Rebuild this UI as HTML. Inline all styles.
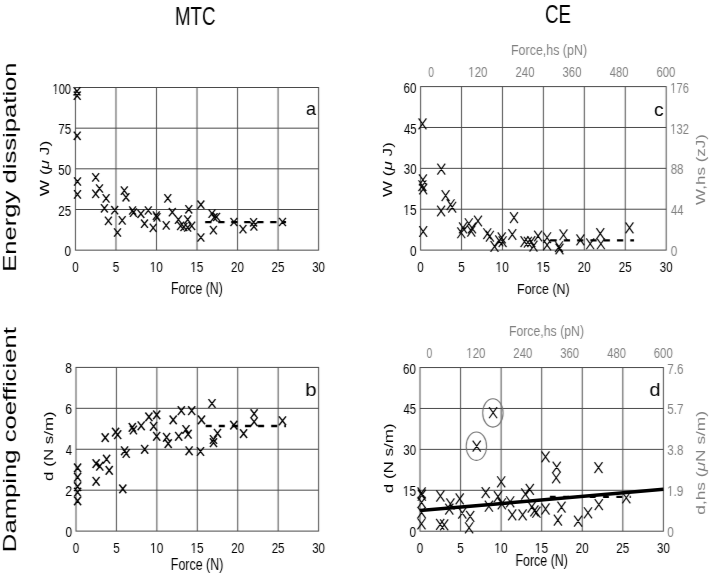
<!DOCTYPE html>
<html><head><meta charset="utf-8"><style>
html,body{margin:0;padding:0;background:#fff;}
svg{display:block;filter:grayscale(1);}
text{font-family:"Liberation Sans",sans-serif;}
</style></head><body>
<svg width="709" height="574" viewBox="0 0 709 574">
<defs><filter id="hb" color-interpolation-filters="sRGB" filterUnits="userSpaceOnUse" x="0" y="0" width="709" height="574"><feConvolveMatrix order="3 1" kernelMatrix="0.1 0.8 0.1" divisor="1" edgeMode="duplicate" preserveAlpha="true"/></filter><clipPath id="k1"><rect x="144.66" y="254.51" width="23.24" height="16.00"/><rect x="144.66" y="270.51" width="5.11" height="9.38"/><rect x="152.65" y="270.51" width="1.05" height="9.38"/><rect x="156.49" y="270.51" width="11.40" height="9.38"/></clipPath><clipPath id="k2"><rect x="185.18" y="254.25" width="23.30" height="16.24"/><rect x="185.18" y="270.49" width="5.11" height="9.50"/><rect x="193.19" y="270.49" width="1.06" height="9.50"/><rect x="197.05" y="270.49" width="11.44" height="9.50"/></clipPath><clipPath id="k3"><rect x="490.62" y="254.46" width="23.24" height="16.00"/><rect x="490.62" y="270.46" width="5.11" height="9.38"/><rect x="498.62" y="270.46" width="1.05" height="9.38"/><rect x="502.46" y="270.46" width="11.40" height="9.38"/></clipPath><clipPath id="k4"><rect x="531.55" y="254.20" width="23.30" height="16.24"/><rect x="531.55" y="270.44" width="5.11" height="9.50"/><rect x="539.56" y="270.44" width="1.06" height="9.50"/><rect x="543.42" y="270.44" width="11.44" height="9.50"/></clipPath><clipPath id="k5"><rect x="145.02" y="535.46" width="23.24" height="16.00"/><rect x="145.02" y="551.46" width="5.11" height="9.38"/><rect x="153.02" y="551.46" width="1.05" height="9.38"/><rect x="156.86" y="551.46" width="11.40" height="9.38"/></clipPath><clipPath id="k6"><rect x="185.45" y="535.20" width="23.30" height="16.24"/><rect x="185.45" y="551.44" width="5.11" height="9.50"/><rect x="193.46" y="551.44" width="1.06" height="9.50"/><rect x="197.32" y="551.44" width="11.44" height="9.50"/></clipPath><clipPath id="k7"><rect x="489.29" y="535.56" width="23.24" height="16.00"/><rect x="489.29" y="551.56" width="5.11" height="9.38"/><rect x="497.28" y="551.56" width="1.05" height="9.38"/><rect x="501.13" y="551.56" width="11.40" height="9.38"/></clipPath><clipPath id="k8"><rect x="529.85" y="535.30" width="23.30" height="16.24"/><rect x="529.85" y="551.54" width="5.11" height="9.50"/><rect x="537.86" y="551.54" width="1.06" height="9.50"/><rect x="541.72" y="551.54" width="11.44" height="9.50"/></clipPath><clipPath id="k9"><rect x="47.41" y="75.61" width="28.67" height="16.00"/><rect x="47.41" y="91.61" width="5.05" height="9.38"/><rect x="55.22" y="91.61" width="0.99" height="9.38"/><rect x="58.89" y="91.61" width="17.19" height="9.38"/></clipPath><clipPath id="k10"><rect x="398.30" y="197.08" width="23.30" height="16.24"/><rect x="398.30" y="213.32" width="5.11" height="9.50"/><rect x="406.31" y="213.32" width="1.06" height="9.50"/><rect x="410.17" y="213.32" width="11.44" height="9.50"/></clipPath><clipPath id="k11"><rect x="397.80" y="478.14" width="23.30" height="16.24"/><rect x="397.80" y="494.38" width="5.11" height="9.50"/><rect x="405.81" y="494.38" width="1.06" height="9.50"/><rect x="409.67" y="494.38" width="11.44" height="9.50"/></clipPath><clipPath id="k12"><rect x="665.36" y="115.59" width="28.63" height="16.00"/><rect x="665.36" y="131.59" width="5.05" height="9.38"/><rect x="673.17" y="131.59" width="0.99" height="9.38"/><rect x="676.83" y="131.59" width="17.17" height="9.38"/></clipPath><clipPath id="k13"><rect x="665.37" y="74.71" width="28.51" height="16.00"/><rect x="665.37" y="90.71" width="5.05" height="9.38"/><rect x="673.16" y="90.71" width="0.98" height="9.38"/><rect x="676.80" y="90.71" width="17.08" height="9.38"/></clipPath><clipPath id="k14"><rect x="661.90" y="478.40" width="26.64" height="16.00"/><rect x="661.90" y="494.40" width="5.11" height="9.38"/><rect x="669.91" y="494.40" width="1.06" height="9.38"/><rect x="673.77" y="494.40" width="14.77" height="9.38"/></clipPath><clipPath id="k15"><rect x="463.21" y="60.36" width="29.31" height="14.89"/><rect x="463.21" y="75.25" width="5.08" height="8.81"/><rect x="471.12" y="75.25" width="1.02" height="8.81"/><rect x="474.88" y="75.25" width="17.64" height="8.81"/></clipPath><clipPath id="k16"><rect x="461.23" y="341.09" width="29.31" height="15.05"/><rect x="461.23" y="356.14" width="5.08" height="8.89"/><rect x="469.14" y="356.14" width="1.02" height="8.89"/><rect x="472.90" y="356.14" width="17.64" height="8.89"/></clipPath></defs>
<rect width="709" height="574" fill="#fff"/>
<g filter="url(#hb)">
<rect width="709" height="574" fill="#fff"/>
<line x1="115.98" y1="87.50" x2="115.98" y2="250.15" stroke="#4a4a4a" stroke-width="1.0"/>
<line x1="156.50" y1="87.50" x2="156.50" y2="250.15" stroke="#4a4a4a" stroke-width="1.0"/>
<line x1="197.03" y1="87.50" x2="197.03" y2="250.15" stroke="#4a4a4a" stroke-width="1.0"/>
<line x1="237.55" y1="87.50" x2="237.55" y2="250.15" stroke="#4a4a4a" stroke-width="1.0"/>
<line x1="278.08" y1="87.50" x2="278.08" y2="250.15" stroke="#4a4a4a" stroke-width="1.0"/>
<line x1="75.45" y1="209.49" x2="318.60" y2="209.49" stroke="#4a4a4a" stroke-width="1.0"/>
<line x1="75.45" y1="168.82" x2="318.60" y2="168.82" stroke="#4a4a4a" stroke-width="1.0"/>
<line x1="75.45" y1="128.16" x2="318.60" y2="128.16" stroke="#4a4a4a" stroke-width="1.0"/>
<rect x="75.45" y="87.50" width="243.15" height="162.65" fill="none" stroke="#4a4a4a" stroke-width="1.0"/>
<line x1="461.53" y1="86.60" x2="461.53" y2="250.10" stroke="#4a4a4a" stroke-width="1.0"/>
<line x1="502.47" y1="86.60" x2="502.47" y2="250.10" stroke="#4a4a4a" stroke-width="1.0"/>
<line x1="543.40" y1="86.60" x2="543.40" y2="250.10" stroke="#4a4a4a" stroke-width="1.0"/>
<line x1="584.33" y1="86.60" x2="584.33" y2="250.10" stroke="#4a4a4a" stroke-width="1.0"/>
<line x1="625.27" y1="86.60" x2="625.27" y2="250.10" stroke="#4a4a4a" stroke-width="1.0"/>
<line x1="420.60" y1="209.22" x2="666.20" y2="209.22" stroke="#4a4a4a" stroke-width="1.0"/>
<line x1="420.60" y1="168.35" x2="666.20" y2="168.35" stroke="#4a4a4a" stroke-width="1.0"/>
<line x1="420.60" y1="127.47" x2="666.20" y2="127.47" stroke="#4a4a4a" stroke-width="1.0"/>
<rect x="420.60" y="86.60" width="245.60" height="163.50" fill="none" stroke="#4a4a4a" stroke-width="1.0"/>
<line x1="116.43" y1="367.40" x2="116.43" y2="531.10" stroke="#4a4a4a" stroke-width="1.0"/>
<line x1="156.87" y1="367.40" x2="156.87" y2="531.10" stroke="#4a4a4a" stroke-width="1.0"/>
<line x1="197.30" y1="367.40" x2="197.30" y2="531.10" stroke="#4a4a4a" stroke-width="1.0"/>
<line x1="237.73" y1="367.40" x2="237.73" y2="531.10" stroke="#4a4a4a" stroke-width="1.0"/>
<line x1="278.17" y1="367.40" x2="278.17" y2="531.10" stroke="#4a4a4a" stroke-width="1.0"/>
<line x1="76.00" y1="490.18" x2="318.60" y2="490.18" stroke="#4a4a4a" stroke-width="1.0"/>
<line x1="76.00" y1="449.25" x2="318.60" y2="449.25" stroke="#4a4a4a" stroke-width="1.0"/>
<line x1="76.00" y1="408.32" x2="318.60" y2="408.32" stroke="#4a4a4a" stroke-width="1.0"/>
<rect x="76.00" y="367.40" width="242.60" height="163.70" fill="none" stroke="#4a4a4a" stroke-width="1.0"/>
<line x1="460.57" y1="367.55" x2="460.57" y2="531.20" stroke="#4a4a4a" stroke-width="1.0"/>
<line x1="501.13" y1="367.55" x2="501.13" y2="531.20" stroke="#4a4a4a" stroke-width="1.0"/>
<line x1="541.70" y1="367.55" x2="541.70" y2="531.20" stroke="#4a4a4a" stroke-width="1.0"/>
<line x1="582.27" y1="367.55" x2="582.27" y2="531.20" stroke="#4a4a4a" stroke-width="1.0"/>
<line x1="622.83" y1="367.55" x2="622.83" y2="531.20" stroke="#4a4a4a" stroke-width="1.0"/>
<line x1="420.00" y1="490.29" x2="663.40" y2="490.29" stroke="#4a4a4a" stroke-width="1.0"/>
<line x1="420.00" y1="449.38" x2="663.40" y2="449.38" stroke="#4a4a4a" stroke-width="1.0"/>
<line x1="420.00" y1="408.46" x2="663.40" y2="408.46" stroke="#4a4a4a" stroke-width="1.0"/>
<rect x="420.00" y="367.55" width="243.40" height="163.65" fill="none" stroke="#4a4a4a" stroke-width="1.0"/>
<text x="175.00" y="24.60" font-size="26.29" textLength="40.57" lengthAdjust="spacingAndGlyphs" fill="#000">MTC</text>
<text x="544.96" y="22.85" font-size="26.41" textLength="26.07" lengthAdjust="spacingAndGlyphs" fill="#000">CE</text>
<text transform="translate(16.30,271.75) rotate(-90)" x="0" y="0" font-size="18.77" textLength="209.36" lengthAdjust="spacingAndGlyphs" fill="#000">Energy dissipation</text>
<text transform="translate(15.90,552.15) rotate(-90)" x="0" y="0" font-size="19.13" textLength="224.99" lengthAdjust="spacingAndGlyphs" fill="#000">Damping coefficient</text>
<text x="72.18" y="272.43" font-size="14.93" textLength="6.49" lengthAdjust="spacingAndGlyphs" fill="#000">0</text>
<text x="112.70" y="272.42" font-size="15.14" textLength="6.56" lengthAdjust="spacingAndGlyphs" fill="#000">5</text>
<text x="149.66" y="272.43" font-size="14.93" textLength="13.24" lengthAdjust="spacingAndGlyphs" fill="#000" clip-path="url(#k1)">10</text>
<text x="190.18" y="272.42" font-size="15.14" textLength="13.30" lengthAdjust="spacingAndGlyphs" fill="#000" clip-path="url(#k2)">15</text>
<text x="231.02" y="272.43" font-size="14.93" textLength="12.91" lengthAdjust="spacingAndGlyphs" fill="#000">20</text>
<text x="271.54" y="272.43" font-size="14.93" textLength="12.98" lengthAdjust="spacingAndGlyphs" fill="#000">25</text>
<text x="312.19" y="272.43" font-size="14.93" textLength="12.79" lengthAdjust="spacingAndGlyphs" fill="#000">30</text>
<text x="417.33" y="272.38" font-size="14.93" textLength="6.49" lengthAdjust="spacingAndGlyphs" fill="#000">0</text>
<text x="458.26" y="272.37" font-size="15.14" textLength="6.56" lengthAdjust="spacingAndGlyphs" fill="#000">5</text>
<text x="495.62" y="272.38" font-size="14.93" textLength="13.24" lengthAdjust="spacingAndGlyphs" fill="#000" clip-path="url(#k3)">10</text>
<text x="536.55" y="272.37" font-size="15.14" textLength="13.30" lengthAdjust="spacingAndGlyphs" fill="#000" clip-path="url(#k4)">15</text>
<text x="577.80" y="272.38" font-size="14.93" textLength="12.91" lengthAdjust="spacingAndGlyphs" fill="#000">20</text>
<text x="618.73" y="272.38" font-size="14.93" textLength="12.98" lengthAdjust="spacingAndGlyphs" fill="#000">25</text>
<text x="659.79" y="272.38" font-size="14.93" textLength="12.79" lengthAdjust="spacingAndGlyphs" fill="#000">30</text>
<text x="72.73" y="553.38" font-size="14.93" textLength="6.49" lengthAdjust="spacingAndGlyphs" fill="#000">0</text>
<text x="113.16" y="553.37" font-size="15.14" textLength="6.56" lengthAdjust="spacingAndGlyphs" fill="#000">5</text>
<text x="150.02" y="553.38" font-size="14.93" textLength="13.24" lengthAdjust="spacingAndGlyphs" fill="#000" clip-path="url(#k5)">10</text>
<text x="190.45" y="553.37" font-size="15.14" textLength="13.30" lengthAdjust="spacingAndGlyphs" fill="#000" clip-path="url(#k6)">15</text>
<text x="231.20" y="553.38" font-size="14.93" textLength="12.91" lengthAdjust="spacingAndGlyphs" fill="#000">20</text>
<text x="271.63" y="553.38" font-size="14.93" textLength="12.98" lengthAdjust="spacingAndGlyphs" fill="#000">25</text>
<text x="312.19" y="553.38" font-size="14.93" textLength="12.79" lengthAdjust="spacingAndGlyphs" fill="#000">30</text>
<text x="416.73" y="553.48" font-size="14.93" textLength="6.49" lengthAdjust="spacingAndGlyphs" fill="#000">0</text>
<text x="457.30" y="553.47" font-size="15.14" textLength="6.56" lengthAdjust="spacingAndGlyphs" fill="#000">5</text>
<text x="494.29" y="553.48" font-size="14.93" textLength="13.24" lengthAdjust="spacingAndGlyphs" fill="#000" clip-path="url(#k7)">10</text>
<text x="534.85" y="553.47" font-size="15.14" textLength="13.30" lengthAdjust="spacingAndGlyphs" fill="#000" clip-path="url(#k8)">15</text>
<text x="575.74" y="553.48" font-size="14.93" textLength="12.91" lengthAdjust="spacingAndGlyphs" fill="#000">20</text>
<text x="616.30" y="553.48" font-size="14.93" textLength="12.98" lengthAdjust="spacingAndGlyphs" fill="#000">25</text>
<text x="656.99" y="553.48" font-size="14.93" textLength="12.79" lengthAdjust="spacingAndGlyphs" fill="#000">30</text>
<text x="64.48" y="256.18" font-size="14.93" textLength="6.60" lengthAdjust="spacingAndGlyphs" fill="#000">0</text>
<text x="58.17" y="215.51" font-size="14.93" textLength="12.98" lengthAdjust="spacingAndGlyphs" fill="#000">25</text>
<text x="58.29" y="174.85" font-size="14.93" textLength="12.79" lengthAdjust="spacingAndGlyphs" fill="#000">50</text>
<text x="58.17" y="134.19" font-size="15.14" textLength="12.98" lengthAdjust="spacingAndGlyphs" fill="#000">75</text>
<text x="52.41" y="93.53" font-size="14.93" textLength="18.67" lengthAdjust="spacingAndGlyphs" fill="#000" clip-path="url(#k9)">100</text>
<text x="409.93" y="256.13" font-size="14.93" textLength="6.60" lengthAdjust="spacingAndGlyphs" fill="#000">0</text>
<text x="403.30" y="215.25" font-size="15.14" textLength="13.30" lengthAdjust="spacingAndGlyphs" fill="#000" clip-path="url(#k10)">15</text>
<text x="403.74" y="174.38" font-size="14.93" textLength="12.79" lengthAdjust="spacingAndGlyphs" fill="#000">30</text>
<text x="403.97" y="133.50" font-size="15.14" textLength="12.61" lengthAdjust="spacingAndGlyphs" fill="#000">45</text>
<text x="403.62" y="92.63" font-size="14.93" textLength="12.91" lengthAdjust="spacingAndGlyphs" fill="#000">60</text>
<text x="65.42" y="537.13" font-size="14.93" textLength="6.60" lengthAdjust="spacingAndGlyphs" fill="#000">0</text>
<text x="65.27" y="496.35" font-size="15.14" textLength="6.97" lengthAdjust="spacingAndGlyphs" fill="#000">2</text>
<text x="65.67" y="455.42" font-size="15.36" textLength="6.28" lengthAdjust="spacingAndGlyphs" fill="#000">4</text>
<text x="65.29" y="414.35" font-size="14.93" textLength="6.82" lengthAdjust="spacingAndGlyphs" fill="#000">6</text>
<text x="65.35" y="373.43" font-size="14.93" textLength="6.75" lengthAdjust="spacingAndGlyphs" fill="#000">8</text>
<text x="409.43" y="537.23" font-size="14.93" textLength="6.60" lengthAdjust="spacingAndGlyphs" fill="#000">0</text>
<text x="402.80" y="496.31" font-size="15.14" textLength="13.30" lengthAdjust="spacingAndGlyphs" fill="#000" clip-path="url(#k11)">15</text>
<text x="403.24" y="455.40" font-size="14.93" textLength="12.79" lengthAdjust="spacingAndGlyphs" fill="#000">30</text>
<text x="403.47" y="414.49" font-size="15.14" textLength="12.61" lengthAdjust="spacingAndGlyphs" fill="#000">45</text>
<text x="403.12" y="373.58" font-size="14.93" textLength="12.91" lengthAdjust="spacingAndGlyphs" fill="#000">60</text>
<text x="670.73" y="256.13" font-size="14.93" textLength="6.60" lengthAdjust="spacingAndGlyphs" fill="#808080">0</text>
<text x="670.98" y="215.40" font-size="15.36" textLength="12.49" lengthAdjust="spacingAndGlyphs" fill="#808080">44</text>
<text x="670.68" y="174.38" font-size="14.93" textLength="12.91" lengthAdjust="spacingAndGlyphs" fill="#808080">88</text>
<text x="670.36" y="133.50" font-size="14.93" textLength="18.64" lengthAdjust="spacingAndGlyphs" fill="#808080" clip-path="url(#k12)">132</text>
<text x="670.37" y="92.63" font-size="14.93" textLength="18.52" lengthAdjust="spacingAndGlyphs" fill="#808080" clip-path="url(#k13)">176</text>
<text x="667.32" y="537.23" font-size="14.93" textLength="6.60" lengthAdjust="spacingAndGlyphs" fill="#808080">0</text>
<text x="666.90" y="496.31" font-size="14.93" textLength="16.64" lengthAdjust="spacingAndGlyphs" fill="#808080" clip-path="url(#k14)">1.9</text>
<text x="667.34" y="455.40" font-size="14.93" textLength="16.13" lengthAdjust="spacingAndGlyphs" fill="#808080">3.8</text>
<text x="667.33" y="414.49" font-size="15.14" textLength="16.25" lengthAdjust="spacingAndGlyphs" fill="#808080">5.7</text>
<text x="667.22" y="373.58" font-size="14.93" textLength="16.25" lengthAdjust="spacingAndGlyphs" fill="#808080">7.6</text>
<text x="428.18" y="77.09" font-size="13.94" textLength="5.79" lengthAdjust="spacingAndGlyphs" fill="#808080">0</text>
<text x="468.21" y="77.09" font-size="13.94" textLength="19.31" lengthAdjust="spacingAndGlyphs" fill="#808080" clip-path="url(#k15)">120</text>
<text x="515.49" y="77.09" font-size="13.94" textLength="19.01" lengthAdjust="spacingAndGlyphs" fill="#808080">240</text>
<text x="562.59" y="77.09" font-size="13.94" textLength="18.89" lengthAdjust="spacingAndGlyphs" fill="#808080">360</text>
<text x="609.80" y="77.09" font-size="13.94" textLength="18.65" lengthAdjust="spacingAndGlyphs" fill="#808080">480</text>
<text x="656.43" y="77.09" font-size="13.94" textLength="19.01" lengthAdjust="spacingAndGlyphs" fill="#808080">600</text>
<text x="426.38" y="357.99" font-size="14.08" textLength="5.79" lengthAdjust="spacingAndGlyphs" fill="#808080">0</text>
<text x="466.23" y="357.99" font-size="14.08" textLength="19.31" lengthAdjust="spacingAndGlyphs" fill="#808080" clip-path="url(#k16)">120</text>
<text x="513.33" y="357.99" font-size="14.08" textLength="19.01" lengthAdjust="spacingAndGlyphs" fill="#808080">240</text>
<text x="560.25" y="357.99" font-size="14.08" textLength="18.89" lengthAdjust="spacingAndGlyphs" fill="#808080">360</text>
<text x="607.28" y="357.99" font-size="14.08" textLength="18.65" lengthAdjust="spacingAndGlyphs" fill="#808080">480</text>
<text x="653.73" y="357.99" font-size="14.08" textLength="19.01" lengthAdjust="spacingAndGlyphs" fill="#808080">600</text>
<text x="170.92" y="294.30" font-size="15.94" textLength="51.95" lengthAdjust="spacingAndGlyphs" fill="#000">Force (N)</text>
<text x="170.80" y="569.70" font-size="15.94" textLength="52.57" lengthAdjust="spacingAndGlyphs" fill="#000">Force (N)</text>
<text x="517.10" y="293.90" font-size="15.22" textLength="52.57" lengthAdjust="spacingAndGlyphs" fill="#000">Force (N)</text>
<text x="515.40" y="565.80" font-size="16.38" textLength="52.57" lengthAdjust="spacingAndGlyphs" fill="#000">Force (N)</text>
<text x="511.00" y="55.00" font-size="15.36" textLength="76.07" lengthAdjust="spacingAndGlyphs" fill="#808080">Force,hs (pN)</text>
<text x="508.92" y="336.40" font-size="15.22" textLength="75.15" lengthAdjust="spacingAndGlyphs" fill="#808080">Force,hs (pN)</text>
<text transform="translate(49.05,196.19) rotate(-90)" x="0" y="0" font-size="12.54" textLength="55.44" lengthAdjust="spacingAndGlyphs" fill="#000">W (<tspan font-style="italic">μ</tspan> J)</text>
<text transform="translate(392.00,196.98) rotate(-90)" x="0" y="0" font-size="12.17" textLength="54.83" lengthAdjust="spacingAndGlyphs" fill="#000">W (<tspan font-style="italic">μ</tspan> J)</text>
<text transform="translate(705.00,204.89) rotate(-90)" x="0" y="0" font-size="12.17" textLength="70.93" lengthAdjust="spacingAndGlyphs" fill="#808080">W,hs (zJ)</text>
<text transform="translate(52.80,480.88) rotate(-90)" x="0" y="0" font-size="12.61" textLength="69.61" lengthAdjust="spacingAndGlyphs" fill="#000">d (N s/m)</text>
<text transform="translate(392.90,493.28) rotate(-90)" x="0" y="0" font-size="12.46" textLength="69.92" lengthAdjust="spacingAndGlyphs" fill="#000">d (N s/m)</text>
<text transform="translate(705.20,514.69) rotate(-90)" x="0" y="0" font-size="12.17" textLength="103.74" lengthAdjust="spacingAndGlyphs" fill="#808080">d,hs (<tspan font-style="italic">μ</tspan>N s/m)</text>
<text x="306.08" y="114.52" font-size="18.55" textLength="10.04" lengthAdjust="spacingAndGlyphs" fill="#000">a</text>
<text x="305.17" y="395.83" font-size="18.10" textLength="11.37" lengthAdjust="spacingAndGlyphs" fill="#000">b</text>
<text x="654.13" y="115.63" font-size="18.00" textLength="9.66" lengthAdjust="spacingAndGlyphs" fill="#000">c</text>
<text x="649.41" y="395.62" font-size="18.50" textLength="11.00" lengthAdjust="spacingAndGlyphs" fill="#000">d</text>
<path d="M205.20 222.20H211.50M218.20 222.20H224.50M231.20 222.20H237.50M244.20 222.20H250.50M257.20 222.20H263.50M270.20 222.20H276.50M283.20 222.20H286.00" stroke="#000" stroke-width="2.3" fill="none"/>
<path d="M205.70 426.00H211.70M218.80 426.00H224.80M231.90 426.00H237.90M245.00 426.00H251.00M258.10 426.00H264.10M271.20 426.00H277.20M284.30 426.00H286.00" stroke="#000" stroke-width="2.3" fill="none"/>
<path d="M550.50 240.30H556.70M563.80 240.30H570.00M577.10 240.30H583.30M590.40 240.30H596.60M603.70 240.30H609.90M617.00 240.30H623.20M630.30 240.30H634.00" stroke="#000" stroke-width="2.3" fill="none"/>
<path d="M549.90 496.90H555.70M563.20 496.90H569.00M576.50 496.90H582.30M589.80 496.90H595.60M603.10 496.90H608.90M616.40 496.90H622.20M629.70 496.90H630.80" stroke="#000" stroke-width="2.3" fill="none"/>
<path d="M73.60 87.10L80.40 95.50M73.60 95.50L80.40 87.10M73.80 91.50L80.60 99.90M73.80 99.90L80.60 91.50M73.80 131.60L80.60 140.00M73.80 140.00L80.60 131.60M74.10 177.30L80.90 185.70M74.10 185.70L80.90 177.30M74.10 190.20L80.90 198.60M74.10 198.60L80.90 190.20M92.30 173.20L99.10 181.60M92.30 181.60L99.10 173.20M92.30 189.70L99.10 198.10M92.30 198.10L99.10 189.70M96.10 184.30L102.90 192.70M96.10 192.70L102.90 184.30M102.70 194.20L109.50 202.60M102.70 202.60L109.50 194.20M101.00 204.10L107.80 212.50M101.00 212.50L107.80 204.10M105.00 216.70L111.80 225.10M105.00 225.10L111.80 216.70M111.30 206.00L118.10 214.40M111.30 214.40L118.10 206.00M114.10 228.30L120.90 236.70M114.10 236.70L120.90 228.30M118.80 216.20L125.60 224.60M118.80 224.60L125.60 216.20M120.90 186.40L127.70 194.80M120.90 194.80L127.70 186.40M122.60 193.10L129.40 201.50M122.60 201.50L129.40 193.10M129.20 206.30L136.00 214.70M129.20 214.70L136.00 206.30M130.00 208.40L136.80 216.80M130.00 216.80L136.80 208.40M137.50 209.60L144.30 218.00M137.50 218.00L144.30 209.60M141.10 219.50L147.90 227.90M141.10 227.90L147.90 219.50M144.90 206.30L151.70 214.70M144.90 214.70L151.70 206.30M149.80 223.70L156.60 232.10M149.80 232.10L156.60 223.70M152.90 211.40L159.70 219.80M152.90 219.80L159.70 211.40M153.60 213.20L160.40 221.60M153.60 221.60L160.40 213.20M164.40 194.20L171.20 202.60M164.40 202.60L171.20 194.20M162.80 221.20L169.60 229.60M162.80 229.60L169.60 221.20M168.90 208.00L175.70 216.40M168.90 216.40L175.70 208.00M175.00 215.40L181.80 223.80M175.00 223.80L181.80 215.40M177.20 221.70L184.00 230.10M177.20 230.10L184.00 221.70M180.50 222.80L187.30 231.20M180.50 231.20L187.30 222.80M184.30 215.40L191.10 223.80M184.30 223.80L191.10 215.40M185.40 205.10L192.20 213.50M185.40 213.50L192.20 205.10M184.30 223.30L191.10 231.70M184.30 231.70L191.10 223.30M188.30 221.70L195.10 230.10M188.30 230.10L195.10 221.70M197.50 200.50L204.30 208.90M197.50 208.90L204.30 200.50M197.50 233.30L204.30 241.70M197.50 241.70L204.30 233.30M208.60 209.40L215.40 217.80M208.60 217.80L215.40 209.40M210.70 213.20L217.50 221.60M210.70 221.60L217.50 213.20M213.20 212.80L220.00 221.20M213.20 221.20L220.00 212.80M210.00 225.90L216.80 234.30M210.00 234.30L216.80 225.90M230.50 217.80L237.30 226.20M230.50 226.20L237.30 217.80M239.60 224.90L246.40 233.30M239.60 233.30L246.40 224.90M250.20 218.10L257.00 226.50M250.20 226.50L257.00 218.10M250.50 222.30L257.30 230.70M250.50 230.70L257.30 222.30M279.10 217.80L285.90 226.20M279.10 226.20L285.90 217.80" stroke="#000" stroke-width="1.35" fill="none"/>
<path d="M74.10 463.50L81.10 472.30M74.10 472.30L81.10 463.50M74.10 472.80L81.10 481.60M74.10 481.60L81.10 472.80M74.10 482.20L81.10 491.00M74.10 491.00L81.10 482.20M74.10 487.80L81.10 496.60M74.10 496.60L81.10 487.80M74.10 496.50L81.10 505.30M74.10 505.30L81.10 496.50M92.60 459.20L99.60 468.00M92.60 468.00L99.60 459.20M96.30 461.80L103.30 470.60M96.30 470.60L103.30 461.80M103.10 454.80L110.10 463.60M103.10 463.60L110.10 454.80M105.70 466.00L112.70 474.80M105.70 474.80L112.70 466.00M92.60 476.90L99.60 485.70M92.60 485.70L99.60 476.90M119.30 484.50L126.30 493.30M119.30 493.30L126.30 484.50M101.70 433.20L108.70 442.00M101.70 442.00L108.70 433.20M112.10 427.70L119.10 436.50M112.10 436.50L119.10 427.70M114.20 430.30L121.20 439.10M114.20 439.10L121.20 430.30M128.80 423.00L135.80 431.80M128.80 431.80L135.80 423.00M129.90 425.60L136.90 434.40M129.90 434.40L136.90 425.60M137.70 421.40L144.70 430.20M137.70 430.20L144.70 421.40M145.40 412.50L152.40 421.30M145.40 421.30L152.40 412.50M153.20 410.50L160.20 419.30M153.20 419.30L160.20 410.50M150.10 421.90L157.10 430.70M150.10 430.70L157.10 421.90M153.20 431.90L160.20 440.70M153.20 440.70L160.20 431.90M163.10 432.90L170.10 441.70M163.10 441.70L170.10 432.90M164.70 439.20L171.70 448.00M164.70 448.00L171.70 439.20M169.70 415.50L176.70 424.30M169.70 424.30L176.70 415.50M175.20 431.90L182.20 440.70M175.20 440.70L182.20 431.90M177.80 406.30L184.80 415.10M177.80 415.10L184.80 406.30M182.50 425.10L189.50 433.90M182.50 433.90L189.50 425.10M184.60 429.80L191.60 438.60M184.60 438.60L191.60 429.80M188.20 406.30L195.20 415.10M188.20 415.10L195.20 406.30M121.10 446.40L128.10 455.20M121.10 455.20L128.10 446.40M122.70 449.10L129.70 457.90M122.70 457.90L129.70 449.10M141.20 444.90L148.20 453.70M141.20 453.70L148.20 444.90M185.60 446.40L192.60 455.20M185.60 455.20L192.60 446.40M197.00 447.10L204.00 455.90M197.00 455.90L204.00 447.10M208.50 399.10L215.50 407.90M208.50 407.90L215.50 399.10M198.00 415.50L205.00 424.30M198.00 424.30L205.00 415.50M214.00 428.90L221.00 437.70M214.00 437.70L221.00 428.90M210.00 435.10L217.00 443.90M210.00 443.90L217.00 435.10M210.00 438.30L217.00 447.10M210.00 447.10L217.00 438.30M230.30 420.70L237.30 429.50M230.30 429.50L237.30 420.70M240.10 429.20L247.10 438.00M240.10 438.00L247.10 429.20M250.60 409.30L257.60 418.10M250.60 418.10L257.60 409.30M250.60 417.40L257.60 426.20M250.60 426.20L257.60 417.40M279.00 416.40L286.00 425.20M279.00 425.20L286.00 416.40" stroke="#000" stroke-width="1.4" fill="none"/>
<path d="M418.60 118.45L426.40 129.35M418.60 129.35L426.40 118.45M437.40 163.65L445.20 174.55M437.40 174.55L445.20 163.65M419.00 174.45L426.80 185.35M419.00 185.35L426.80 174.45M418.50 180.25L426.30 191.15M418.50 191.15L426.30 180.25M419.30 183.55L427.10 194.45M419.30 194.45L427.10 183.55M441.70 190.15L449.50 201.05M441.70 201.05L449.50 190.15M446.70 199.25L454.50 210.15M446.70 210.15L454.50 199.25M448.30 201.75L456.10 212.65M448.30 212.65L456.10 201.75M437.20 205.55L445.00 216.45M437.20 216.45L445.00 205.55M419.30 226.05L427.10 236.95M419.30 236.95L427.10 226.05M457.40 227.35L465.20 238.25M457.40 238.25L465.20 227.35M459.10 222.45L466.90 233.35M459.10 233.35L466.90 222.45M464.90 218.25L472.70 229.15M464.90 229.15L472.70 218.25M467.40 225.75L475.20 236.65M467.40 236.65L475.20 225.75M474.10 215.55L481.90 226.45M474.10 226.45L481.90 215.55M468.10 222.55L475.90 233.45M468.10 233.45L475.90 222.55M483.40 228.25L491.20 239.15M483.40 239.15L491.20 228.25M486.00 230.75L493.80 241.65M486.00 241.65L493.80 230.75M490.60 240.95L498.40 251.85M490.60 251.85L498.40 240.95M495.30 235.45L503.10 246.35M495.30 246.35L503.10 235.45M497.80 232.45L505.60 243.35M497.80 243.35L505.60 232.45M498.70 236.25L506.50 247.15M498.70 247.15L506.50 236.25M510.10 212.15L517.90 223.05M510.10 223.05L517.90 212.15M508.40 229.05L516.20 239.95M508.40 239.95L516.20 229.05M520.60 236.15L528.40 247.05M520.60 247.05L528.40 236.15M524.00 236.75L531.80 247.65M524.00 247.65L531.80 236.75M527.40 236.15L535.20 247.05M527.40 247.05L535.20 236.15M529.60 240.65L537.40 251.55M529.60 251.55L537.40 240.65M534.20 230.55L542.00 241.45M534.20 241.45L542.00 230.55M543.20 232.25L551.00 243.15M543.20 243.15L551.00 232.25M543.20 239.55L551.00 250.45M543.20 250.45L551.00 239.55M555.10 241.25L562.90 252.15M555.10 252.15L562.90 241.25M559.60 229.35L567.40 240.25M559.60 240.25L567.40 229.35M555.60 243.55L563.40 254.45M555.60 254.45L563.40 243.55M576.50 234.45L584.30 245.35M576.50 245.35L584.30 234.45M586.30 238.35L594.10 249.25M586.30 249.25L594.10 238.35M596.40 228.15L604.20 239.05M596.40 239.05L604.20 228.15M597.00 238.35L604.80 249.25M597.00 249.25L604.80 238.35M625.60 222.45L633.40 233.35M625.60 233.35L633.40 222.45" stroke="#000" stroke-width="1.15" fill="none"/>
<path d="M417.60 487.45L425.60 498.55M417.60 498.55L425.60 487.45M417.80 489.65L425.80 500.75M417.80 500.75L425.80 489.65M417.60 496.95L425.60 508.05M417.60 508.05L425.60 496.95M417.60 506.95L425.60 518.05M417.60 518.05L425.60 506.95M417.50 518.25L425.50 529.35M417.50 529.35L425.50 518.25M436.40 490.45L444.40 501.55M436.40 501.55L444.40 490.45M446.40 498.45L454.40 509.55M446.40 509.55L454.40 498.45M445.30 503.55L453.30 514.65M445.30 514.65L453.30 503.55M455.70 493.35L463.70 504.45M455.70 504.45L463.70 493.35M458.30 507.45L466.30 518.55M458.30 518.55L466.30 507.45M466.20 510.85L474.20 521.95M466.20 521.95L474.20 510.85M465.10 522.25L473.10 533.35M465.10 533.35L473.10 522.25M436.20 518.85L444.20 529.95M436.20 529.95L444.20 518.85M440.20 519.35L448.20 530.45M440.20 530.45L448.20 519.35M481.70 487.05L489.70 498.15M481.70 498.15L489.70 487.05M484.90 500.65L492.90 511.75M484.90 511.75L492.90 500.65M494.00 491.05L502.00 502.15M494.00 502.15L502.00 491.05M497.20 476.25L505.20 487.35M497.20 487.35L505.20 476.25M497.80 498.25L505.80 509.35M497.80 509.35L505.80 498.25M506.20 496.25L514.20 507.35M506.20 507.35L514.20 496.25M508.20 509.35L516.20 520.45M508.20 520.45L516.20 509.35M518.60 509.35L526.60 520.45M518.60 520.45L526.60 509.35M521.30 488.45L529.30 499.55M521.30 499.55L529.30 488.45M525.80 483.85L533.80 494.95M525.80 494.95L533.80 483.85M527.80 501.45L535.80 512.55M527.80 512.55L535.80 501.45M530.40 505.35L538.40 516.45M530.40 516.45L538.40 505.35M532.40 506.65L540.40 517.75M532.40 517.75L540.40 506.65M541.50 503.45L549.50 514.55M541.50 514.55L549.50 503.45M541.50 451.35L549.50 462.45M541.50 462.45L549.50 451.35M552.70 461.55L560.70 472.65M552.70 472.65L560.70 461.55M552.20 472.25L560.20 483.35M552.20 483.35L560.20 472.25M553.90 514.55L561.90 525.65M553.90 525.65L561.90 514.55M557.50 501.55L565.50 512.65M557.50 512.65L565.50 501.55M574.10 515.55L582.10 526.65M574.10 526.65L582.10 515.55M584.00 507.25L592.00 518.35M584.00 518.35L592.00 507.25M594.80 499.05L602.80 510.15M594.80 510.15L602.80 499.05M594.50 462.05L602.50 473.15M594.50 473.15L602.50 462.05M622.30 492.25L630.30 503.35M622.30 503.35L630.30 492.25M489.10 407.15L497.10 418.25M489.10 418.25L497.10 407.15M472.70 440.55L480.70 451.65M472.70 451.65L480.70 440.55" stroke="#000" stroke-width="1.15" fill="none"/>
<ellipse cx="492.9" cy="412.9" rx="10.2" ry="14.2" fill="none" stroke="#747474" stroke-width="1.1"/>
<ellipse cx="476.4" cy="446.2" rx="10.2" ry="14.2" fill="none" stroke="#747474" stroke-width="1.1"/>
<line x1="420" y1="510.6" x2="663.4" y2="489.3" stroke="#000" stroke-width="3.5"/>
</g>
</svg>
</body></html>
